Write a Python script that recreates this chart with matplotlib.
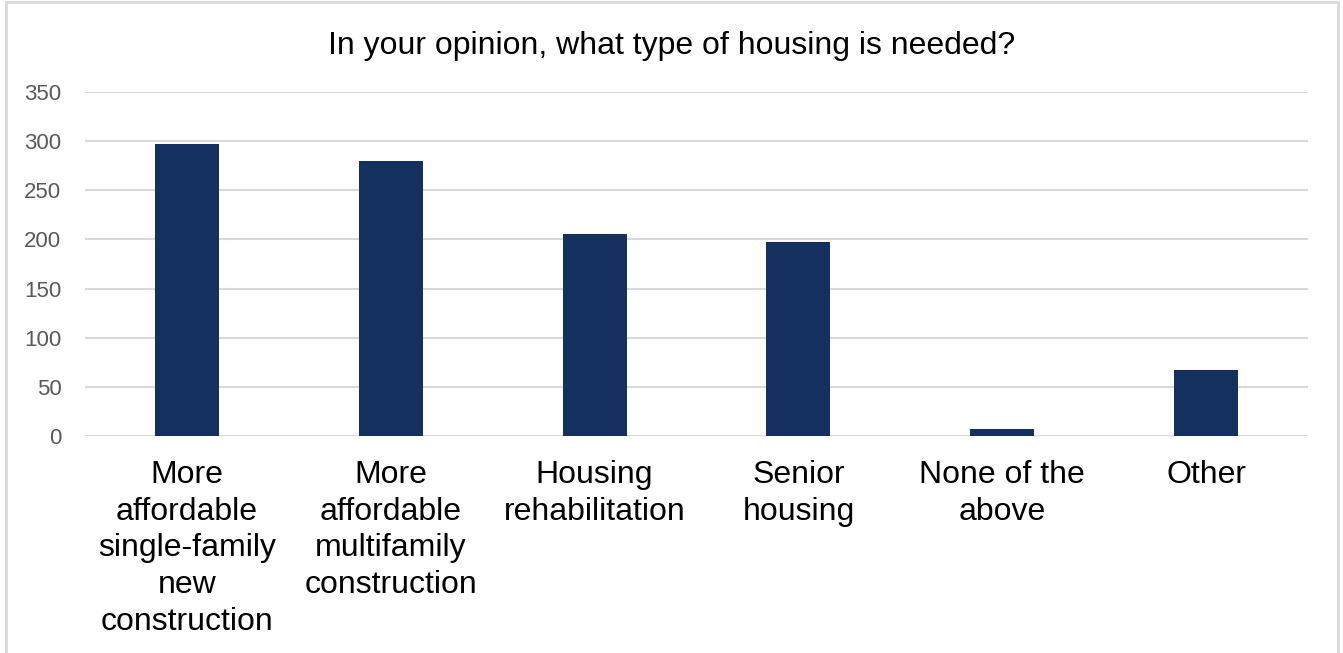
import matplotlib.pyplot as plt
from matplotlib.patches import Rectangle

plt.rcParams['font.family'] = ['Liberation Sans', 'DejaVu Sans']

# survey answers
categories = [
    "More\naffordable\nsingle-family\nnew\nconstruction",
    "More\naffordable\nmultifamily\nconstruction",
    "Housing\nrehabilitation",
    "Senior\nhousing",
    "None of the\nabove",
    "Other",
]
counts = [297, 280, 206, 197, 7, 67]
yticks = [0, 50, 100, 150, 200, 250, 300, 350]

fig = plt.figure(figsize=(13.43, 6.53), dpi=100)
ax = fig.add_axes([0.0633, 0.3323, 0.9107, 0.5268])

x = range(len(categories))
ax.bar(x, counts, width=0.314, color="#14305F", zorder=3)

ax.set_xlim(-0.5, len(categories) - 0.5)
ax.set_ylim(0, 350)
ax.set_yticks(yticks)
ax.set_xticks(list(x))
ax.set_xticklabels(categories, fontsize=23, color="black", linespacing=1.3)
ax.tick_params(axis="y", labelsize=16, labelcolor="#595959", length=0, pad=17)
ax.tick_params(axis="x", length=0, pad=17)
ax.grid(axis="y", color="#D9D9D9", linewidth=1.5, zorder=0)
for s in ax.spines.values():
    s.set_visible(False)

fig.text(0.5, 0.93, "In your opinion, what type of housing is needed?",
         ha="center", va="center", fontsize=23, color="black")

# light frame round the chart
fig.patches.append(Rectangle((6 / 1343, -0.05), 1332 / 1343, 1.05 - 2 / 653,
                             transform=fig.transFigure, fill=False,
                             edgecolor="#D9D9D9", linewidth=2))

fig.savefig("out.png", dpi=100)
